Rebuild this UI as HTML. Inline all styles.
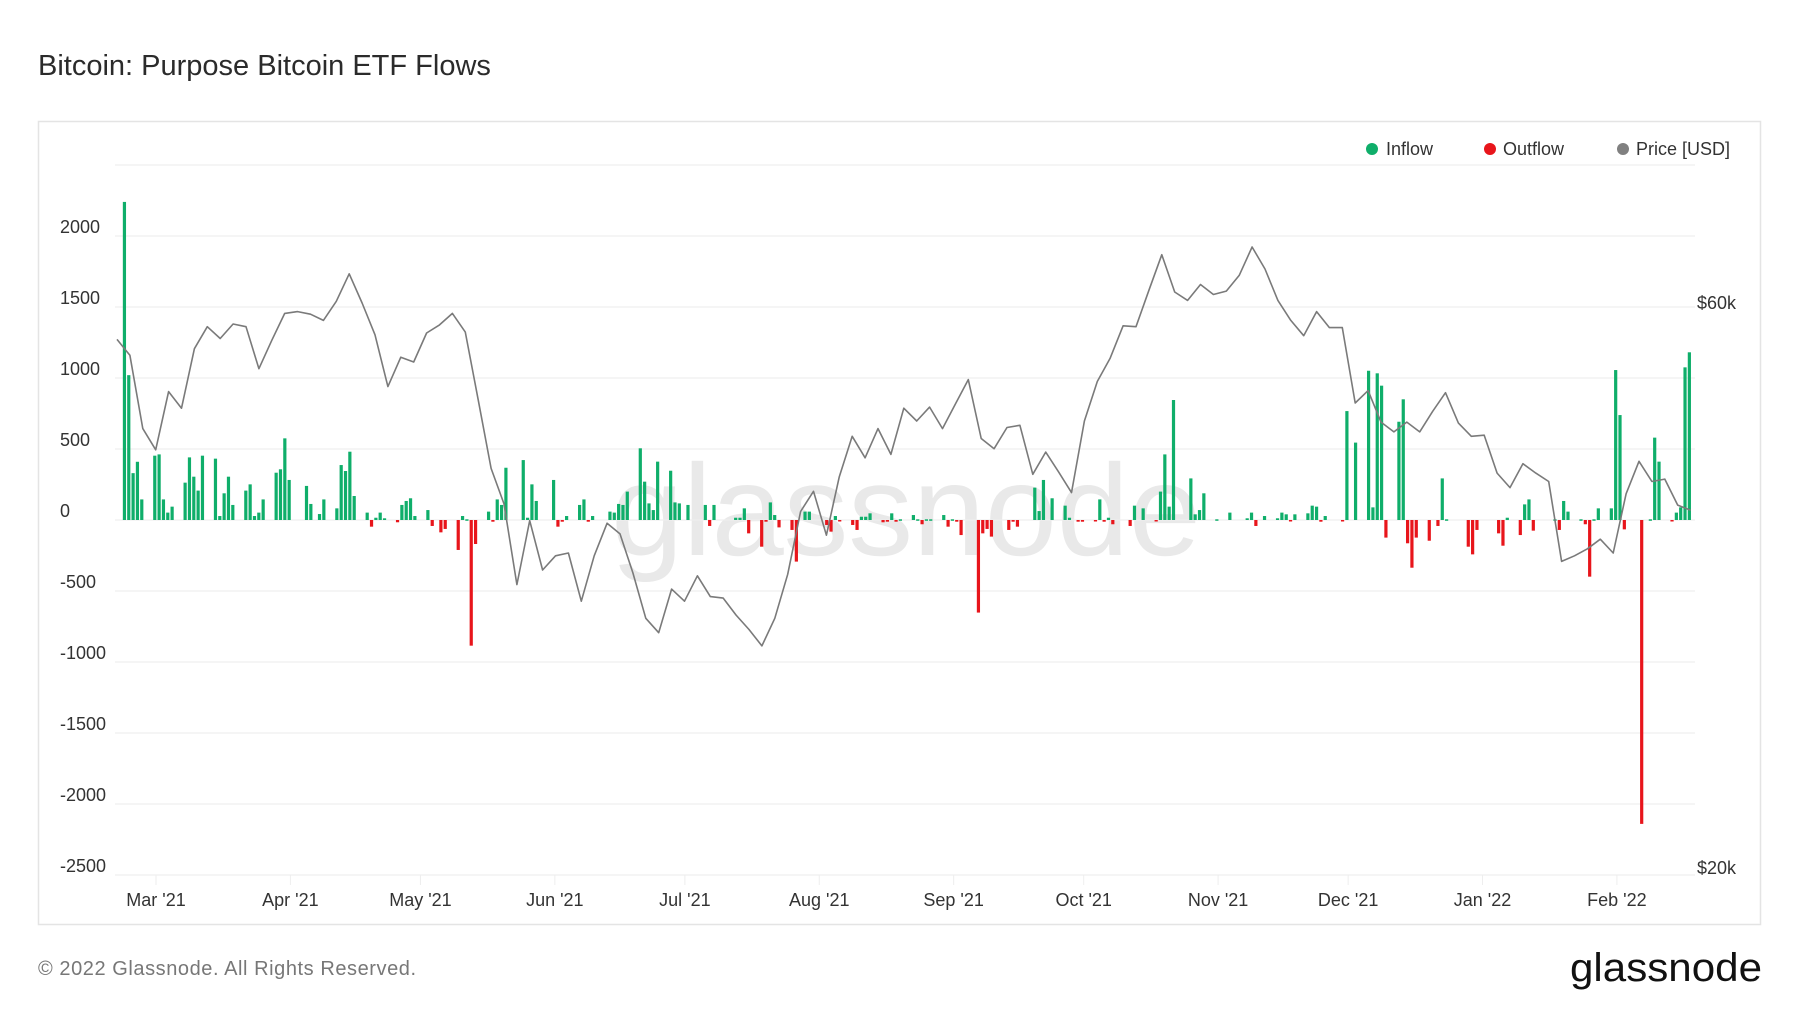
<!DOCTYPE html>
<html><head><meta charset="utf-8">
<style>
html,body{margin:0;padding:0;background:#fff;}
body{width:1800px;height:1013px;overflow:hidden;font-family:"Liberation Sans",sans-serif;}
svg text{font-family:"Liberation Sans",sans-serif;}
</style></head>
<body>
<svg id="chart" width="1800" height="1013" xmlns="http://www.w3.org/2000/svg">
<text x="38" y="75" font-size="29" fill="#2b2b2b">Bitcoin: Purpose Bitcoin ETF Flows</text>
<rect x="38.5" y="121.5" width="1722" height="803" fill="#fff" stroke="#e4e4e4" stroke-width="1.5"/>
<text x="906" y="555" font-size="130" fill="#e9e9e9" text-anchor="middle" textLength="590">glassnode</text>
<g id="grid"></g>
<g id="yaxis"></g>
<g id="xaxis"></g>
<g id="bars"></g>
<path id="price" fill="none" stroke="#7a7a7a" stroke-width="1.6" stroke-linejoin="round"/>
<g>
 <g><circle cx="1372" cy="149" r="6" fill="#0fae6a"/><text x="1386" y="155" font-size="18" fill="#333">Inflow</text></g>
 <g><circle cx="1490" cy="149" r="6" fill="#e8151b"/><text x="1503" y="155" font-size="18" fill="#333">Outflow</text></g>
 <g><circle cx="1623" cy="149" r="6" fill="#808080"/><text x="1636" y="155" font-size="18" fill="#333">Price [USD]</text></g>
</g>
<text x="1697" y="309" font-size="18" fill="#333">$60k</text>
<text x="1697" y="874" font-size="18" fill="#333">$20k</text>
<text x="38" y="975" font-size="20" fill="#777" textLength="378">© 2022 Glassnode. All Rights Reserved.</text>
<text x="1570" y="981" font-size="40" fill="#111" textLength="192" lengthAdjust="spacingAndGlyphs">glassnode</text>
</svg>
<script>
const yTicks=[2500,2000,1500,1000,500,0,-500,-1000,-1500,-2000,-2500];
const monthLabels=["Mar '21","Apr '21","May '21","Jun '21","Jul '21","Aug '21","Sep '21","Oct '21","Nov '21","Dec '21","Jan '22","Feb '22"];
const monthDays=[9,40,70,101,131,162,193,223,254,284,315,346];
const prices=[55.9,54.2,47.0,45.1,50.5,48.9,54.9,57.3,56.0,57.6,57.3,52.8,55.8,58.8,59.0,58.7,58.0,60.2,63.5,60.0,56.4,51.0,54.0,53.5,56.6,57.5,58.8,56.7,49.7,43.5,40.6,34.7,39.3,35.7,36.7,36.9,33.6,36.7,39.1,38.3,35.5,32.5,31.6,34.4,33.6,35.3,33.9,33.8,32.7,31.8,30.8,32.5,35.4,40.0,41.6,38.2,42.8,46.3,44.4,47.0,44.7,48.9,47.7,49.0,47.0,49.3,51.7,46.1,45.2,47.1,47.3,43.0,44.9,43.2,41.5,47.7,51.5,53.9,57.4,57.3,61.5,65.9,61.3,60.3,62.2,61.0,61.4,63.3,66.9,64.1,60.3,58.0,56.3,59.0,57.2,57.2,49.4,50.6,47.6,46.7,47.6,46.7,48.6,50.4,47.5,46.3,46.4,43.1,41.9,43.9,43.1,42.4,36.3,36.7,37.2,37.9,36.9,41.4,44.1,42.4,42.6,40.5,40.1];
const flowDays=[1,2,3,4,5,8,9,10,11,12,15,16,17,18,19,22,23,24,25,26,29,30,31,32,33,36,37,38,39,43,44,46,47,50,51,52,53,54,57,58,59,60,61,64,65,66,67,68,71,72,74,75,78,79,80,81,82,85,86,87,88,89,93,94,95,96,100,101,102,103,106,107,108,109,113,114,115,116,117,120,121,122,123,124,127,128,129,131,135,136,137,142,143,144,145,148,149,150,151,152,155,156,158,159,163,164,165,166,169,170,171,172,173,176,177,178,179,180,183,184,185,186,187,190,191,192,193,194,198,199,200,201,205,206,207,211,212,213,215,218,219,221,222,225,226,227,228,229,233,234,236,239,240,241,242,243,247,248,249,250,253,256,260,261,262,264,267,268,269,270,271,274,275,276,277,278,282,283,285,288,289,290,291,292,295,296,297,298,299,302,304,305,306,311,312,313,318,319,320,323,324,325,326,331,332,333,334,337,338,339,340,341,344,345,346,347,351,353,354,355,358,359,360,361,362];
const flowValues=[2240,1020,330,410,145,453,462,145,52,94,263,441,305,207,453,432,28,188,305,106,207,251,28,52,145,333,357,575,282,240,113,42,145,82,387,345,481,169,52,-47,16,52,12,-16,106,134,153,28,70,-42,-87,-63,-211,28,5,-885,-169,59,-12,145,106,368,422,16,251,134,282,-47,-12,28,106,145,-12,28,59,52,113,106,200,505,270,117,70,411,347,124,117,106,106,-42,106,16,16,82,-94,-188,-12,124,35,-52,-70,-293,59,59,-35,-82,28,-7,-35,-70,23,23,47,-16,-12,47,-12,5,35,5,-30,5,5,35,-47,5,-12,-106,-652,-94,-63,-117,-70,-12,-47,228,63,282,153,101,16,-12,-12,-7,145,-12,16,-30,-42,101,82,-7,200,462,94,845,293,40,70,188,5,52,12,52,-42,28,12,52,40,-7,40,47,101,94,-12,28,-7,767,545,1051,89,1033,946,-124,692,850,-164,-336,-124,-146,-42,293,5,-188,-242,-70,-94,-181,16,-106,110,145,-75,5,-70,134,59,5,-30,-399,5,82,82,1056,739,-66,-2140,5,580,411,-7,52,89,1075,1181];
const lastPriceDay=363;

const NS="http://www.w3.org/2000/svg";
const X0=117, DAY=4.335, PL=115, PR=1695;
function xScale(d){return X0+d*DAY;}
function yFlow(v){return 520-v*(71/500);}
function yPrice(k){return 868-514.3*Math.log(k/20);}
function mk(tag,attrs,parent){const e=document.createElementNS(NS,tag);for(const k in attrs)e.setAttribute(k,attrs[k]);parent.appendChild(e);return e;}

const grid=document.getElementById('grid'), yax=document.getElementById('yaxis'), xax=document.getElementById('xaxis');
yTicks.forEach(t=>{
  const y=yFlow(t);
  const l=mk('line',{x1:PL,x2:PR,y1:y,y2:y,stroke:'#efefef','stroke-width':1.3},grid);
  
  
  if(t<2500){
    const tx=mk('text',{x:60,y:y-3,'font-size':18,fill:'#333'},yax);
    tx.textContent=String(t);
    
    
  }
});
monthLabels.forEach((m,i)=>{
  const x=xScale(monthDays[i]);
  const tk=mk('line',{x1:x,x2:x,y1:875,y2:885,stroke:'#eeeeee','stroke-width':1},xax);
  
  
  const tx=mk('text',{x:x,y:906,'font-size':18,fill:'#333','text-anchor':'middle'},xax);
  tx.textContent=m;
  
  
});
const bars=document.getElementById('bars');
flowDays.forEach((d,i)=>{
  const v=flowValues[i];
  const y0=yFlow(0), y1=yFlow(v);
  const r=mk('rect',{x:xScale(d)+1.5,y:Math.min(y0,y1),width:3.2,height:Math.max(1.5,Math.abs(y1-y0)),fill:v>=0?'#0fae6a':'#e8151b'},bars);
  
  
});
const priceStep=lastPriceDay/(prices.length-1);
let d='';
prices.forEach((p,i)=>{d+=(i?'L':'M')+xScale(i*priceStep).toFixed(1)+','+yPrice(p).toFixed(1);});
document.getElementById('price').setAttribute('d',d);
</script>
</body></html>
